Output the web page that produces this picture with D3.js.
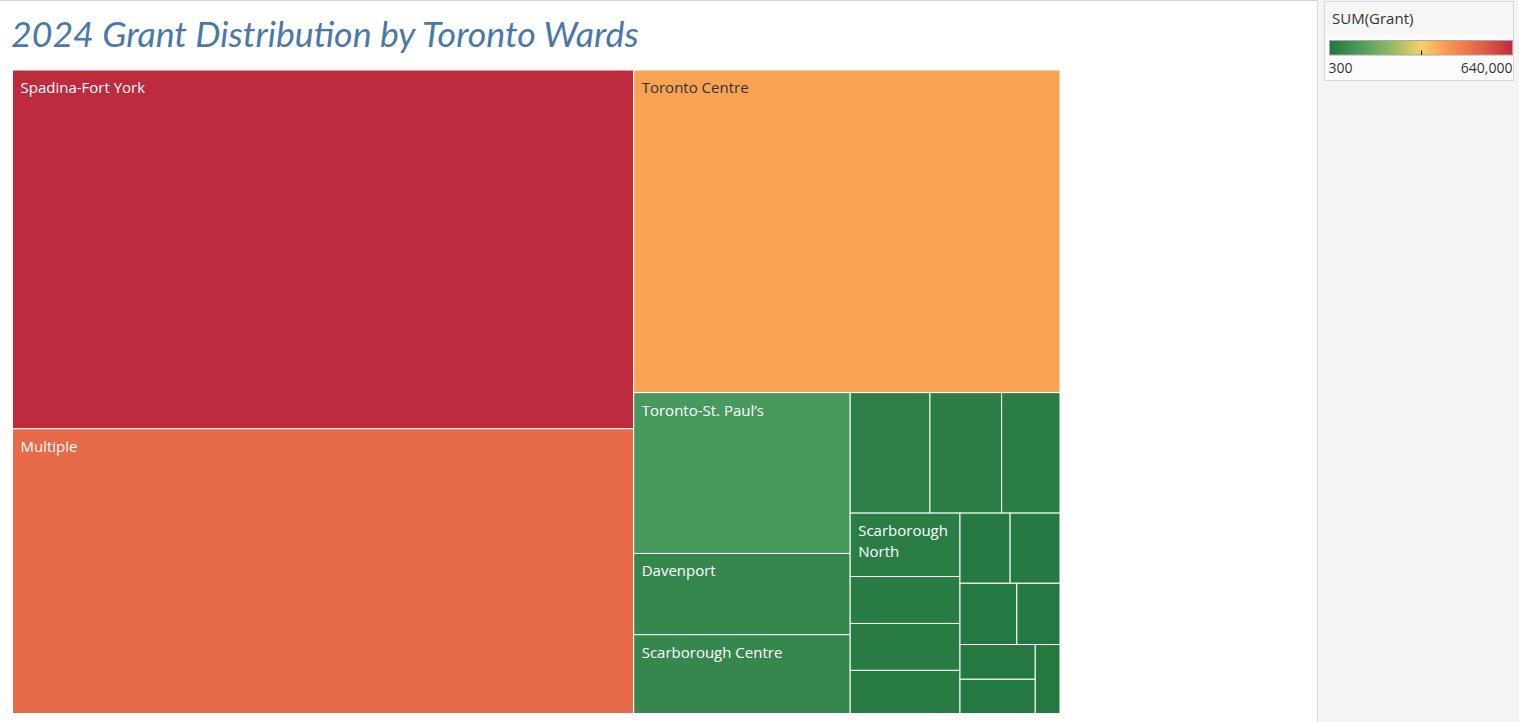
<!DOCTYPE html>
<html>
<head>
<meta charset="utf-8">
<script src="https://cdn.jsdelivr.net/npm/d3@7"></script>
<style>
  body { margin: 0; background: #fff; overflow: hidden; }
  svg { display: block; }
</style>
</head>
<body>
<svg id="chart"></svg>
<script>
// grant totals per ward
const wards = ['Spadina-Fort York', 'Multiple', 'Toronto Centre', 'Toronto-St. Paul\u2019s', 'Davenport',
  'Scarborough Centre', '(unlabelled 1)', '(unlabelled 2)', '(unlabelled 3)', 'Scarborough North',
  '(unlabelled 4)', '(unlabelled 5)', '(unlabelled 6)', '(unlabelled 7)', '(unlabelled 8)',
  '(unlabelled 9)', '(unlabelled 10)', '(unlabelled 11)', '(unlabelled 12)', '(unlabelled 13)'];
const grants = [640000, 508000, 395000, 100000, 50500,
  49000, 27600, 24800, 20200, 20000,
  14800, 14800, 13600, 10100, 10050,
  10000, 7600, 7500, 7400, 4900];
const labelled = ['Spadina-Fort York', 'Multiple', 'Toronto Centre', 'Toronto-St. Paul\u2019s',
  'Davenport', 'Scarborough Centre', 'Scarborough North'];
const legendTicks = [300, 640000];
const palette = ['#22763f', '#4b9b5f', '#90b960', '#f4d166', '#f88f4d', '#e25f48', '#be2a3e'];

const W = 1519, H = 722;
const mapX = 12.5, mapY = 70, mapW = 1047.5, mapH = 643.5;

const svg = d3.select('#chart').attr('width', W).attr('height', H);

const color = d3.scaleLinear()
    .domain(palette.map((c, i) => legendTicks[0] + i * (legendTicks[1] - legendTicks[0]) / (palette.length - 1)))
    .range(palette)
    .interpolate(d3.interpolateLab);

// top rule and right panel
svg.append('line').attr('x1', 0).attr('x2', 1317).attr('y1', 0.5).attr('y2', 0.5)
    .attr('stroke', '#d4d4d4');
svg.append('rect').attr('x', 1317).attr('y', 0).attr('width', W - 1317).attr('height', H)
    .attr('fill', '#f4f4f4');
svg.append('line').attr('x1', 1317.5).attr('x2', 1317.5).attr('y1', 0).attr('y2', H)
    .attr('stroke', '#d9d9d9');

// title, fitted to the reference width
const title = svg.append('text')
    .attr('x', 11).attr('y', 47)
    .attr('font-family', 'Lato, "Open Sans", sans-serif')
    .attr('font-style', 'italic')
    .attr('font-size', 33)
    .attr('fill', '#4a78a8')
    .text('2024 Grant Distribution by Toronto Wards');
const tLen = title.node().getComputedTextLength();
title.attr('font-size', 33 * 628 / tLen);

// treemap
const root = d3.hierarchy({children: wards.map((w, i) => ({name: w, value: grants[i]}))})
    .sum(d => d.value || 0)
    .sort((a, b) => b.value - a.value);

d3.treemap()
    .size([mapW, mapH])
    .tile(d3.treemapSquarify.ratio(1.75))(root);

const map = svg.append('g').attr('transform', `translate(${mapX},${mapY})`);

const cell = map.selectAll('g')
    .data(root.leaves())
    .enter()
    .append('g')
    .attr('transform', d => `translate(${d.x0},${d.y0})`);

cell.append('rect')
    .attr('width', d => d.x1 - d.x0)
    .attr('height', d => d.y1 - d.y0)
    .attr('fill', d => color(d.value))
    .attr('stroke', '#fff')
    .attr('stroke-width', 1);

const lum = c => { const r = d3.rgb(c); return 0.299 * r.r + 0.587 * r.g + 0.114 * r.b; };

cell.filter(d => labelled.includes(d.data.name)).each(function (d) {
  const g = d3.select(this);
  const maxW = d.x1 - d.x0 - 16;
  const txt = g.append('text')
      .attr('x', 8).attr('y', 23)
      .attr('font-family', '"Open Sans", sans-serif')
      .attr('font-size', 15)
      .attr('fill', lum(color(d.value)) > 160 ? '#333' : '#fff');
  const words = d.data.name.split(' ');
  let line = [], ts = txt.append('tspan').attr('x', 8).attr('dy', 0);
  words.forEach(w => {
    line.push(w);
    ts.text(line.join(' '));
    if (ts.node().getComputedTextLength() > maxW && line.length > 1) {
      line.pop();
      ts.text(line.join(' '));
      line = [w];
      ts = txt.append('tspan').attr('x', 8).attr('dy', 21).text(w);
    }
  });
});

// legend
const lg = svg.append('g');
lg.append('rect').attr('x', 1324.5).attr('y', 1.5).attr('width', 189).attr('height', 79)
    .attr('fill', '#fcfcfc').attr('stroke', '#d6d6d6');
lg.append('rect').attr('x', 1325).attr('y', 2).attr('width', 188).attr('height', 33)
    .attr('fill', '#f6f6f6');
lg.append('text').attr('x', 1332).attr('y', 24)
    .attr('font-family', '"Open Sans", sans-serif').attr('font-size', 15).attr('fill', '#333')
    .text('SUM(Grant)');

const grad = svg.append('defs').append('linearGradient').attr('id', 'grad');
grad.selectAll('stop').data(d3.range(0, 1.0001, 0.05)).enter().append('stop')
    .attr('offset', t => t)
    .attr('stop-color', t => color(legendTicks[0] + t * (legendTicks[1] - legendTicks[0])));

const barX = d3.scaleLinear().domain(legendTicks).range([1329.5, 1512.5]);
lg.append('rect').attr('x', barX(legendTicks[0])).attr('y', 40.5)
    .attr('width', barX(legendTicks[1]) - barX(legendTicks[0])).attr('height', 14.5)
    .attr('fill', 'url(#grad)').attr('stroke', '#a8a8a8');
const mid = (legendTicks[0] + legendTicks[1]) / 2;
lg.append('line').attr('x1', Math.round(barX(mid)) + 0.5).attr('x2', Math.round(barX(mid)) + 0.5)
    .attr('y1', 50.5).attr('y2', 55).attr('stroke', '#000');

lg.selectAll('.tick').data(legendTicks).enter().append('text')
    .attr('x', (d, i) => i === 0 ? 1328.5 : 1512.5)
    .attr('y', 73)
    .attr('text-anchor', (d, i) => i === 0 ? 'start' : 'end')
    .attr('font-family', '"Open Sans", sans-serif').attr('font-size', 14).attr('fill', '#333')
    .text(d => d3.format(',')(d));
</script>
</body>
</html>
